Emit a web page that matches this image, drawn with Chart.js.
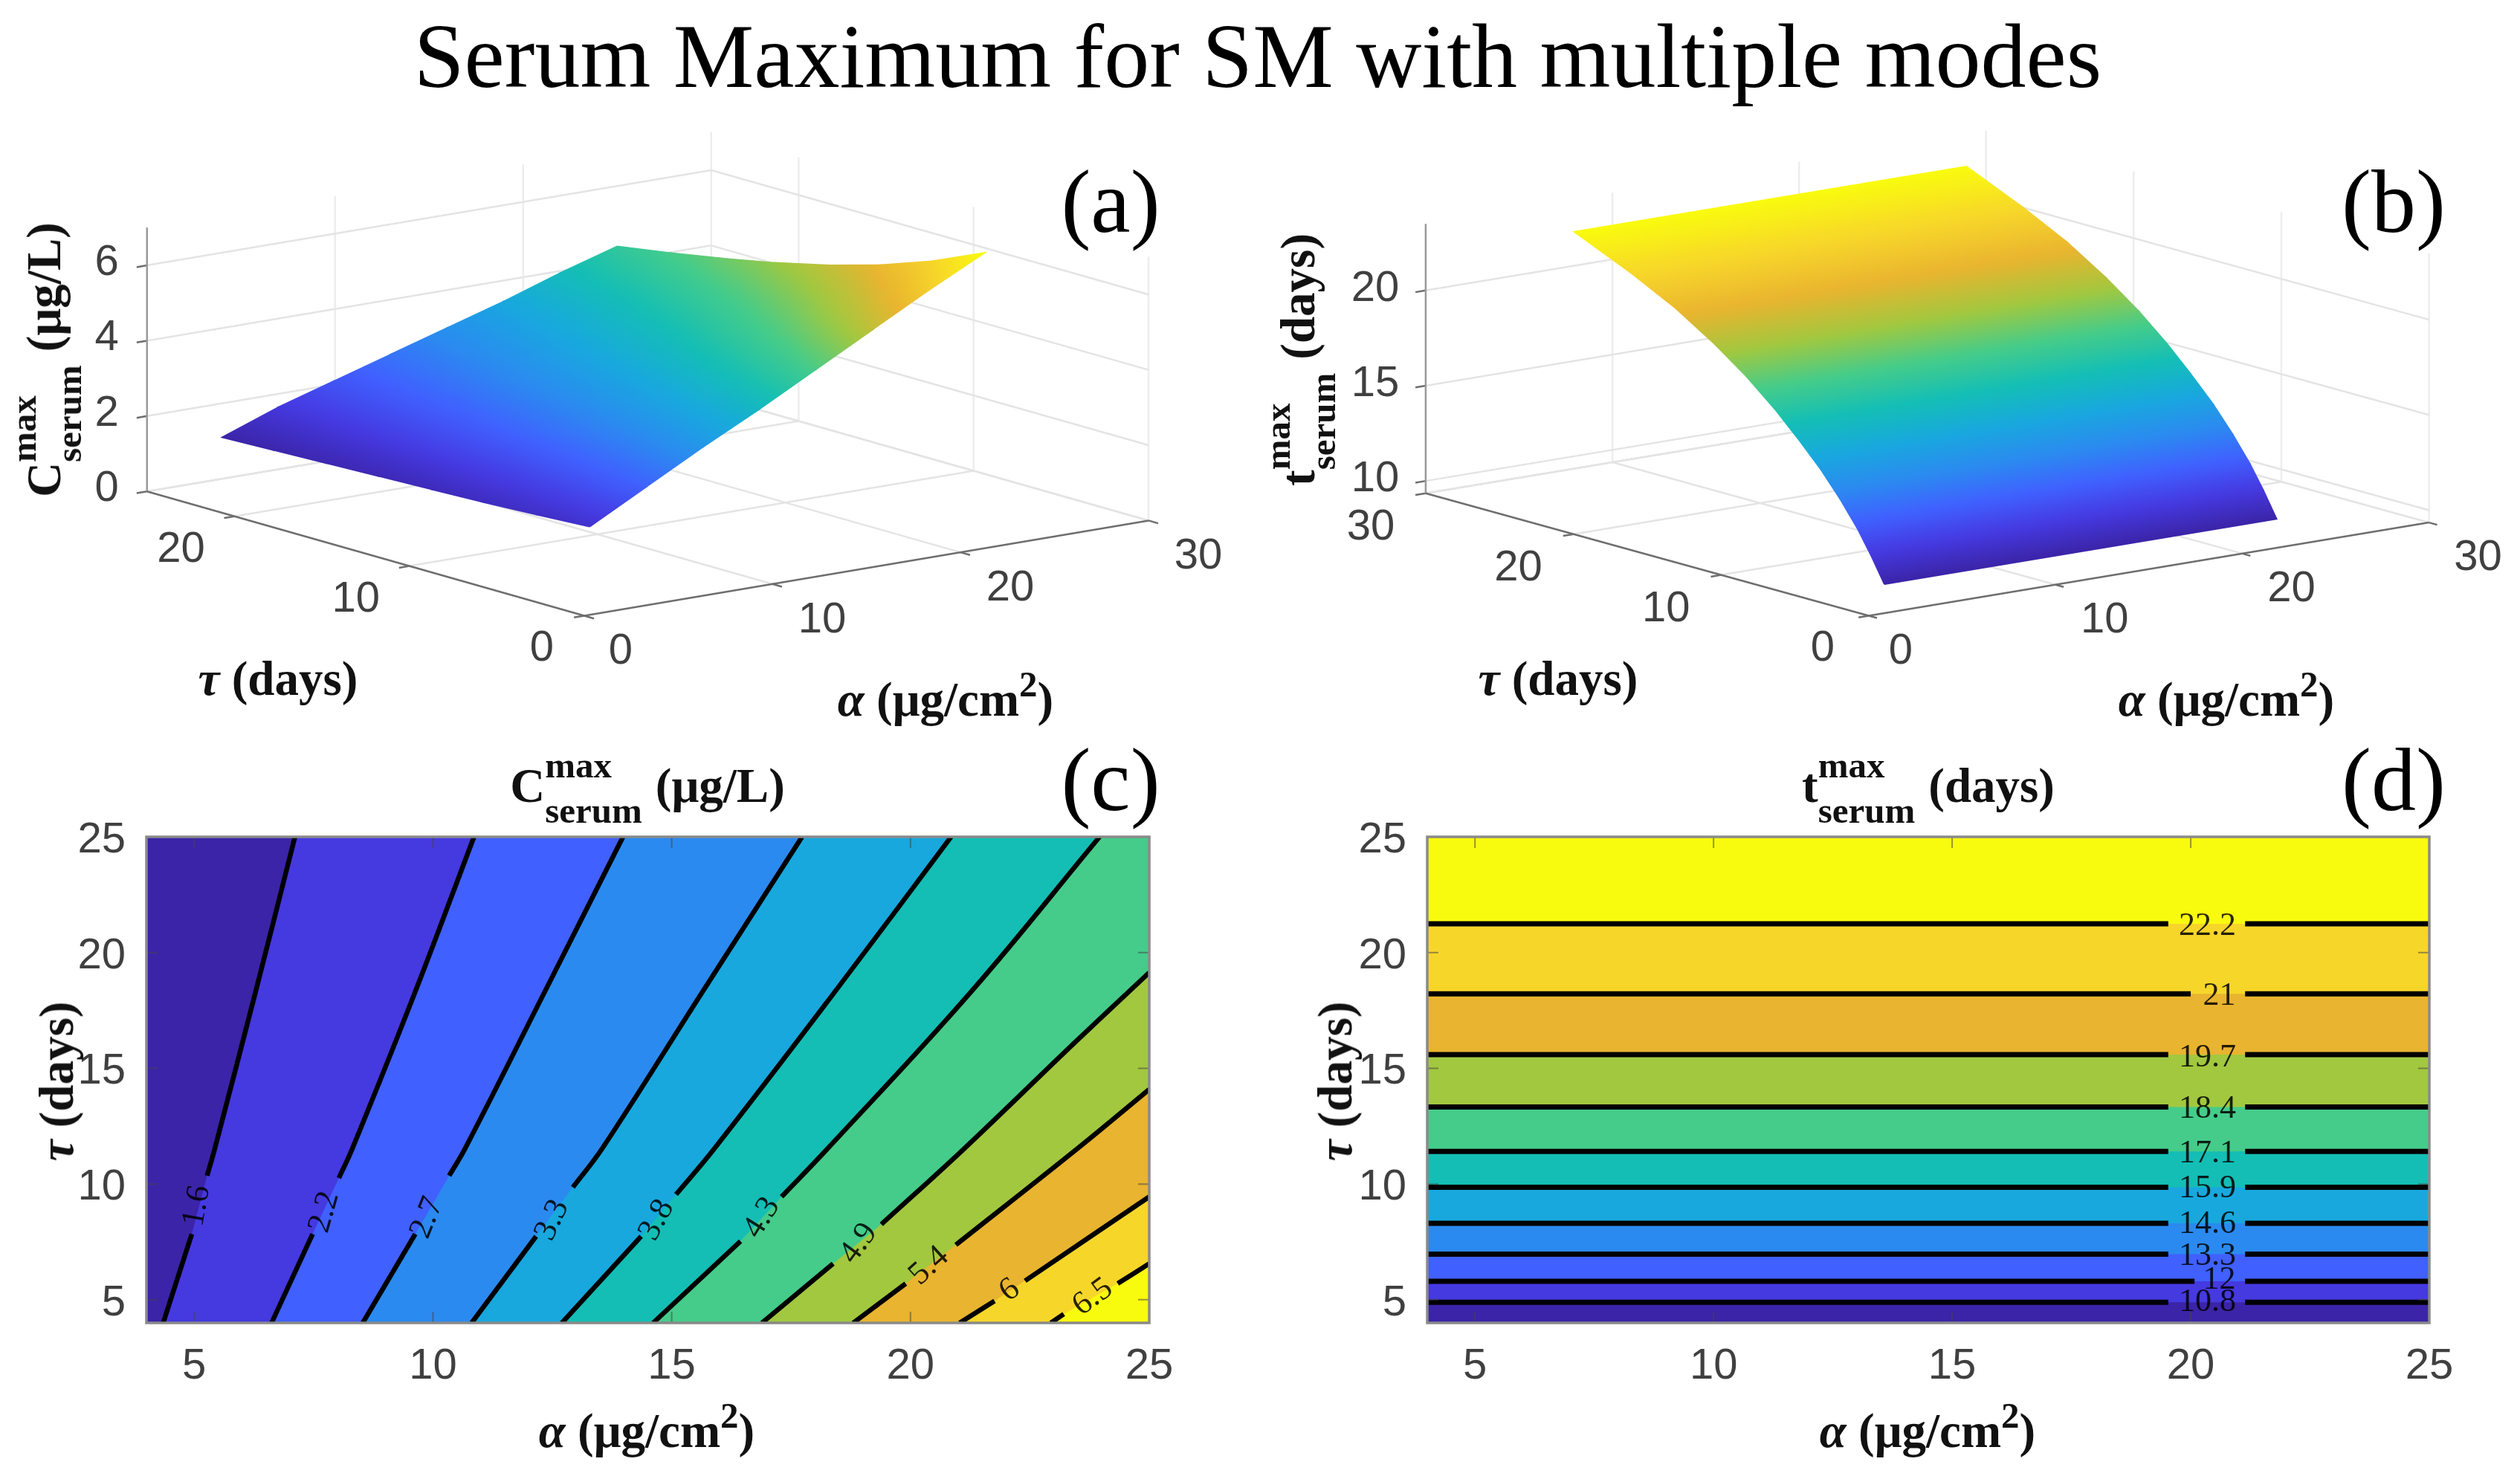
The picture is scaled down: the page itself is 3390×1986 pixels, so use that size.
<!DOCTYPE html>
<html><head><meta charset="utf-8">
<script src="https://cdn.jsdelivr.net/npm/chart.js@4"></script>
<style>
html,body{margin:0;padding:0;background:#fff;width:3390px;height:1986px;overflow:hidden}
canvas{position:absolute}
.t{position:absolute;white-space:nowrap;font-family:"Liberation Serif",serif;color:#000;transform:translate(-50%,-50%)}
.lab{font-weight:bold;font-size:65px;line-height:70px;color:#111}
.rot{transform:translate(-50%,-50%) rotate(-90deg)}
.stack{display:inline-block;vertical-align:middle;font-size:49px;line-height:61px;text-align:left;margin:-20px 18px 0 0;position:relative;top:6px}
.stack span{display:block}
.lab sup{font-size:49px;line-height:0;vertical-align:baseline;position:relative;top:-26px}
</style></head><body>
<canvas id="ca" width="1690" height="830" style="left:0;top:170px"></canvas>
<canvas id="cb" width="1700" height="830" style="left:1690px;top:170px"></canvas>
<canvas id="cc" width="1690" height="986" style="left:0;top:1000px"></canvas>
<canvas id="cd" width="1700" height="986" style="left:1690px;top:1000px"></canvas>

<div class="t" style="left:1692px;top:76px;font-size:122px">Serum Maximum for SM with multiple modes</div>
<div class="t" style="left:1494px;top:272px;font-size:120px">(a)</div>
<div class="t" style="left:3220px;top:272px;font-size:120px">(b)</div>
<div class="t" style="left:1494px;top:1050px;font-size:120px">(c)</div>
<div class="t" style="left:3220px;top:1050px;font-size:120px">(d)</div>

<div class="t lab rot" style="left:66px;top:484px">C<span class="stack"><span>max</span><span>serum</span></span>(μg/L)</div>
<div class="t lab rot" style="left:1753px;top:484px">t<span class="stack"><span>max</span><span>serum</span></span>(days)</div>
<div class="t lab" style="left:374px;top:913px"><i>τ</i> (days)</div>
<div class="t lab" style="left:1272px;top:941px"><i>α</i> (μg/cm<sup>2</sup>)</div>
<div class="t lab" style="left:2096px;top:913px"><i>τ</i> (days)</div>
<div class="t lab" style="left:2995px;top:941px"><i>α</i> (μg/cm<sup>2</sup>)</div>
<div class="t lab" style="left:871px;top:1064px">C<span class="stack"><span>max</span><span>serum</span></span>(μg/L)</div>
<div class="t lab" style="left:2594px;top:1064px">t<span class="stack"><span>max</span><span>serum</span></span>(days)</div>
<div class="t lab rot" style="left:76px;top:1455px"><i>τ</i> (days)</div>
<div class="t lab rot" style="left:1796px;top:1455px"><i>τ</i> (days)</div>
<div class="t lab" style="left:870px;top:1925px"><i>α</i> (μg/cm<sup>2</sup>)</div>
<div class="t lab" style="left:2593px;top:1925px"><i>α</i> (μg/cm<sup>2</sup>)</div>

<script>
// ---------- colours ----------
const bandColors = ['#3B24A8','#4539E0','#4060FF','#2B8AF0','#18A8DE','#14BEB5','#45CC8A','#A2C83F','#E9B42F','#F7D62A','#F9FB0E'];

// ---------- panel (a): surface heights, rows by tau, columns by alpha ----------
const surfAAlpha = [4,7,10,13,16,19,22,25];
const surfATau   = [4,7,10,13,16,19,22,25];
const surfAValues = [
  [1.50,2.30,3.10,3.85,4.65,5.45,6.25,7.00],
  [1.42,2.15,2.87,3.58,4.30,5.00,5.68,6.38],
  [1.35,2.03,2.70,3.35,4.00,4.63,5.22,5.88],
  [1.30,1.93,2.55,3.15,3.75,4.32,4.87,5.48],
  [1.25,1.85,2.42,2.98,3.53,4.05,4.58,5.15],
  [1.20,1.78,2.30,2.83,3.33,3.82,4.34,4.87],
  [1.15,1.70,2.20,2.68,3.15,3.62,4.13,4.62],
  [1.10,1.65,2.10,2.55,3.00,3.45,3.95,4.40]
];
const axisATicksAlpha=[0,10,20,30], axisATicksTau=[0,10,20], axisATicksZ=[0,2,4,6];

// ---------- panel (b): surface heights by tau (flat in alpha) ----------
const surfBAlpha = [4,25];
const surfBTau   = [4,4.89,5.8,6.97,8.3,9.86,11.41,13.33,15.59,18.22,21.24,25];
const surfBValues= [9.5,10.8,12,13.3,14.6,15.9,17.1,18.4,19.7,21,22.2,23.5];
const axisBTicksAlpha=[0,10,20,30], axisBTicksTau=[0,10,20,30], axisBTicksZ=[10,15,20];

// ---------- panel (c): contour lines ----------
const cLevels = ['1.6','2.2','2.7','3.3','3.8','4.3','4.9','5.4','6','6.5'];
const cContourAlpha = [
  [4.35,4.95,5.27,5.43,6.28,7.11],
  [6.62,7.48,8.03,8.31,9.62,10.86],
  [8.53,9.63,10.34,10.67,12.33,13.98],
  [10.81,12.16,12.93,13.54,15.63,17.73],
  [12.70,14.36,15.09,15.89,18.40,20.85],
  [14.61,16.44,17.30,18.26,21.25,23.96],
  [16.89,18.38,19.39,21.12,23.50,25],
  [18.80,19.90,20.95,23.49,25],
  [21.03,21.76,22.40,25],
  [22.94,23.21,24.34,25]
];
const cContourTau = [
  [4,7.84,10.36,11.52,18.26,25],
  [4,7.84,10.26,11.52,18.26,25],
  [4,7.84,10.36,11.52,18.26,25],
  [4,7.74,9.86,11.52,18.26,25],
  [4,7.74,9.55,11.52,18.26,25],
  [4,7.53,9.45,11.52,18.26,25],
  [4,6.56,8.26,11.52,16.23,19.14],
  [4,5.70,7.37,11.52,14.09],
  [4,4.95,5.82,9.45],
  [4,4.38,5.70,6.56]
];
const cLabelAlpha=[5.06,7.73,9.88,12.5,14.69,16.89,18.92,20.39,22.08,23.82];
const cLabelTau  =[9.05,8.79,8.54,8.44,8.44,8.54,7.43,6.46,5.41,5.11];
const cLabelAngle=[-80,-74,-68,-65,-62,-58,-54,-42,-36,-36];

// ---------- panel (d): contour lines ----------
const dLevels   = ['10.8','12','13.3','14.6','15.9','17.1','18.4','19.7','21','22.2'];
const dLevelTau = [4.89,5.80,6.97,8.30,9.86,11.41,13.33,15.59,18.22,21.24];
const dGapLeft  = [19.53,20.08,19.53,19.53,19.53,19.53,19.53,19.53,20.0,19.53];
const dGapRight = [21.14,21.14,21.14,21.14,21.14,21.14,21.14,21.14,21.14,21.14];
const dLabelAlpha=[20.35,20.6,20.35,20.35,20.35,20.35,20.35,20.35,20.6,20.35];
const dLabelTau  =[4.87,5.85,6.88,8.25,9.80,11.30,13.22,15.45,18.10,21.12];

// ---------- shared 2-D axes ----------
const axisRange=[4,25];
const axisTicks=[5,10,15,20,25];

// ---------- helpers ----------
Chart.defaults.animation=false;
function poly(points,color,order){return {data:points,showLine:true,fill:'shape',backgroundColor:color,borderColor:'rgba(0,0,0,0)',borderWidth:0,pointRadius:0,tension:0,order};}
function stroke(points,color,width,order,tension){return {data:points,showLine:true,fill:false,borderColor:color,backgroundColor:color,borderWidth:width,pointRadius:0,tension:tension||0,order};}
function zip(xs,ys){return xs.map((x,i)=>({x,y:ys[i]}));}

function cmap(t){
  t=Math.max(0,Math.min(1,t))*(bandColors.length-1);
  const i=Math.min(bandColors.length-2,Math.floor(t)),f=t-i;
  const h=c=>[1,3,5].map(k=>parseInt(c.substr(k,2),16));
  const a=h(bandColors[i]),b=h(bandColors[i+1]);
  return 'rgb('+a.map((v,k)=>Math.round(v+(b[k]-v)*f)).join(',')+')';
}

const frameTicks={id:'frameTicks',
 beforeDraw(chart){
  // sit the y tick digits on their tick marks
  chart.scales.y.getLabelItems().forEach(it=>{if(!it._moved){it.options.translation[1]+=5;it._moved=true;}});
 },
 afterDatasetsDraw(chart){
  const {ctx,chartArea:a,scales:{x,y}}=chart;
  ctx.save();
  ctx.strokeStyle='rgba(70,70,70,.55)';ctx.lineWidth=2;
  axisTicks.forEach(v=>{
    const px=x.getPixelForValue(v),py=y.getPixelForValue(v);
    ctx.beginPath();
    ctx.moveTo(px,a.bottom);ctx.lineTo(px,a.bottom-15);
    ctx.moveTo(px,a.top);ctx.lineTo(px,a.top+15);
    ctx.moveTo(a.left,py);ctx.lineTo(a.left+15,py);
    ctx.moveTo(a.right,py);ctx.lineTo(a.right-15,py);
    ctx.stroke();
  });
  ctx.strokeStyle='#8a8a8a';ctx.lineWidth=3.5;
  ctx.strokeRect(a.left,a.top,a.right-a.left,a.bottom-a.top);
  ctx.restore();
}};
const contourText={id:'contourText',afterDatasetsDraw(chart,args,o){
  if(!o.labels)return;
  const {ctx,scales:{x,y}}=chart;
  ctx.save();ctx.font='44px "Liberation Serif"';ctx.fillStyle='rgba(0,0,0,.85)';ctx.textAlign='center';ctx.textBaseline='middle';
  o.labels.forEach((s,i)=>{
    ctx.save();ctx.translate(x.getPixelForValue(o.a[i]),y.getPixelForValue(o.t[i]));
    ctx.rotate((o.r?o.r[i]:0)*Math.PI/180);ctx.fillText(s,0,0);ctx.restore();
  });
  ctx.restore();
}};
const axisText={id:'axisText',afterDatasetsDraw(chart,args,o){
  if(!o.items)return;
  const {ctx,scales:{x,y}}=chart;
  ctx.save();ctx.font='58px "Liberation Sans"';ctx.fillStyle='#404040';ctx.textAlign='center';ctx.textBaseline='middle';
  o.items.forEach(it=>ctx.fillText(it.s,x.getPixelForValue(it.x),y.getPixelForValue(it.y)));
  ctx.restore();
}};

function contourChart(id,datasets,leftW,rightPad,labelOpts){
  const tick={color:'#404040',font:{family:'"Liberation Sans"',size:58},autoSkip:false,maxRotation:0,minRotation:0,padding:24};
  return new Chart(document.getElementById(id),{
    type:'scatter',data:{datasets},
    plugins:[frameTicks,contourText],
    options:{responsive:false,devicePixelRatio:1,events:[],
      layout:{padding:{left:0,top:126,right:rightPad,bottom:0}},
      plugins:{legend:{display:false},tooltip:{enabled:false},contourText:labelOpts},
      scales:{
        x:{type:'linear',min:axisRange[0],max:axisRange[1],grid:{display:false,drawTicks:false},border:{display:false},
           afterBuildTicks(s){s.ticks=axisTicks.map(v=>({value:v}));},ticks:tick,
           afterFit(s){s.height=206;}},
        y:{type:'linear',min:axisRange[0],max:axisRange[1],grid:{display:false,drawTicks:false},border:{display:false},
           afterBuildTicks(s){s.ticks=axisTicks.map(v=>({value:v}));},ticks:{...tick,padding:28},
           afterFit(s){s.width=leftW;}}
      }}
  });
}

// ---------- (c) ----------
(function(){
  const ds=[poly([{x:4,y:4},{x:25,y:4},{x:25,y:25},{x:4,y:25},{x:4,y:4}],bandColors[0],100)];
  cLevels.forEach((_,i)=>{
    const pts=zip(cContourAlpha[i],cContourTau[i]);
    const last=pts[pts.length-1];
    ds.push(poly([...pts,{x:25,y:last.y},{x:25,y:4},pts[0]],bandColors[i+1],99-i));
    ds.push(stroke(pts.slice(0,2),'#000',6.5,1));
    ds.push(stroke(pts.slice(2),'#000',6.5,1,0.4));
  });
  contourChart('cc',ds,197,1690-1546,{labels:cLevels,a:cLabelAlpha,t:cLabelTau,r:cLabelAngle});
})();

// ---------- (d) ----------
(function(){
  const ds=[poly([{x:4,y:4},{x:25,y:4},{x:25,y:25},{x:4,y:25},{x:4,y:4}],bandColors[0],100)];
  dLevels.forEach((_,i)=>{
    const t=dLevelTau[i];
    ds.push(poly([{x:4,y:t},{x:25,y:t},{x:25,y:25},{x:4,y:25},{x:4,y:t}],bandColors[i+1],99-i));
    ds.push(stroke([{x:4,y:t},{x:dGapLeft[i],y:t}],'#000',7,1));
    ds.push(stroke([{x:dGapRight[i],y:t},{x:25,y:t}],'#000',7,1));
  });
  contourChart('cd',ds,230,1700-1578,{labels:dLevels,a:dLabelAlpha,t:dLabelTau});
})();

// ---------- 3-D view ----------
function makeView(ox,oy,ax,ay,tx,ty,zs,z0){return (a,t,z)=>({x:ox+ax*a+tx*t,y:oy+ay*a+ty*t-zs*(z-z0)});}
function surfaceCells(view,alphas,taus,valueAt,order){
  let lo=Infinity,hi=-Infinity;
  taus.forEach((t,j)=>alphas.forEach((a,i)=>{const v=valueAt(i,j);lo=Math.min(lo,v);hi=Math.max(hi,v);}));
  const g=document.createElement('canvas').getContext('2d');
  const out=[];
  for(let j=0;j<taus.length-1;j++)for(let i=0;i<alphas.length-1;i++){
    const c=[[i,j],[i+1,j],[i+1,j+1],[i,j+1]];
    const pts=c.map(([p,q])=>view(alphas[p],taus[q],valueAt(p,q)));
    const vals=c.map(([p,q])=>valueAt(p,q));
    const mx=pts.reduce((s,p)=>s+p.x,0)/4,my=pts.reduce((s,p)=>s+p.y,0)/4,mv=vals.reduce((s,v)=>s+v,0)/4;
    let sxx=0,sxy=0,syy=0,sxv=0,syv=0;
    pts.forEach((p,k)=>{const dx=p.x-mx,dy=p.y-my,dv=vals[k]-mv;sxx+=dx*dx;sxy+=dx*dy;syy+=dy*dy;sxv+=dx*dv;syv+=dy*dv;});
    const det=sxx*syy-sxy*sxy;
    const A=(sxv*syy-syv*sxy)/det,B=(syv*sxx-sxv*sxy)/det,n=A*A+B*B;
    const vMin=Math.min(...vals),vMax=Math.max(...vals);
    const t0=(vMin-mv)/n,t1=(vMax-mv)/n;
    const grad=g.createLinearGradient(mx+A*t0,my+B*t0,mx+A*t1,my+B*t1);
    for(let k=0;k<=6;k++){grad.addColorStop(k/6,cmap((vMin+(vMax-vMin)*k/6-lo)/(hi-lo)));}
    out.push({data:[...pts,pts[0]],showLine:true,fill:'shape',backgroundColor:grad,borderColor:grad,borderWidth:2,pointRadius:0,tension:0,order});
  }
  return out;
}
function surfaceChart(id,W,H,view,aMax,tMax,zMin,zMax,aTicks,tTicks,zTicks,cells,off){
  const grid='#e4e4e4',ax='#6e6e6e',ds=[];
  const gl=(p,q,c)=>ds.push(stroke([view(...p),view(...q)],c||grid,2.5,50));
  const al=(p,q,w)=>ds.push(stroke([view(...p),view(...q)],ax,w||2.5,5));
  // floor
  aTicks.forEach(a=>{if(a>0)gl([a,0,zMin],[a,tMax,zMin]);});
  tTicks.forEach(t=>{if(t>0)gl([0,t,zMin],[aMax,t,zMin]);});
  gl([0,tMax,zMin],[aMax,tMax,zMin]);gl([aMax,tMax,zMin],[aMax,0,zMin]);
  // back walls
  zTicks.forEach(z=>{gl([0,tMax,z],[aMax,tMax,z]);gl([aMax,tMax,z],[aMax,0,z]);});
  aTicks.forEach(a=>{if(a>0)gl([a,tMax,zMin],[a,tMax,zMax],'#ededed');});
  tTicks.forEach(t=>{if(t<tMax)gl([aMax,t,zMin],[aMax,t,zMax],'#ededed');});
  // axes
  al([0,0,zMin],[aMax,0,zMin]);al([0,0,zMin],[0,tMax,zMin]);
  ds.push(stroke([view(0,tMax,zMin),view(0,tMax,zMax)],'#9a9a9a',2.5,5));
  aTicks.forEach(a=>al([a,0,zMin],[a,-0.55,zMin]));
  tTicks.forEach(t=>al([0,t,zMin],[-0.55,t,zMin]));
  zTicks.forEach(z=>al([0,tMax,z],[-0.55,tMax,z]));
  ds.push(...cells);
  const items=[];
  aTicks.forEach(a=>{const p=view(a,0,zMin),o=a===0?off.a0:off.a;items.push({s:String(a),x:p.x+o[0],y:p.y+o[1]});});
  tTicks.forEach(t=>{const p=view(0,t,zMin),o=t===0?off.t0:off.t;items.push({s:String(t),x:p.x+o[0],y:p.y+o[1]});});
  zTicks.forEach(z=>{const p=view(0,tMax,z);items.push({s:String(z),x:p.x+off.z[0],y:p.y+off.z[1]});});
  return new Chart(document.getElementById(id),{
    type:'scatter',data:{datasets:ds},plugins:[axisText],
    options:{responsive:false,devicePixelRatio:1,events:[],layout:{padding:0},
      plugins:{legend:{display:false},tooltip:{enabled:false},axisText:{items}},
      scales:{x:{type:'linear',display:false,min:0,max:W},y:{type:'linear',display:false,min:0,max:H,reverse:true}}}
  });
}
// projections: canvas pixels per unit of alpha, tau and height
const viewA=makeView(786,658.5,25.3,-4.27,-23.53,-6.69,50.7,0);
const viewB=makeView(824,658.5,25.12,-4.18,-19.87,-5.49,25.63,9.35);
surfaceChart('ca',1690,830,viewA,30,25,0,7,axisATicksAlpha,axisATicksTau,axisATicksZ,
  surfaceCells(viewA,surfAAlpha,surfATau,(i,j)=>surfAValues[j][i],10),
  {a:[67,49],a0:[49,48],t:[-72,45],t0:[-57,44],z:[-54,-3]});
surfaceChart('cb',1700,830,viewB,30,30,9.35,23.5,axisBTicksAlpha,axisBTicksTau,axisBTicksZ,
  surfaceCells(viewB,surfBAlpha,surfBTau,(i,j)=>surfBValues[j],10),
  {a:[66,48],a0:[43,48],t:[-74,46],t0:[-62,44],z:[-68,-2]});
</script>
</body></html>
